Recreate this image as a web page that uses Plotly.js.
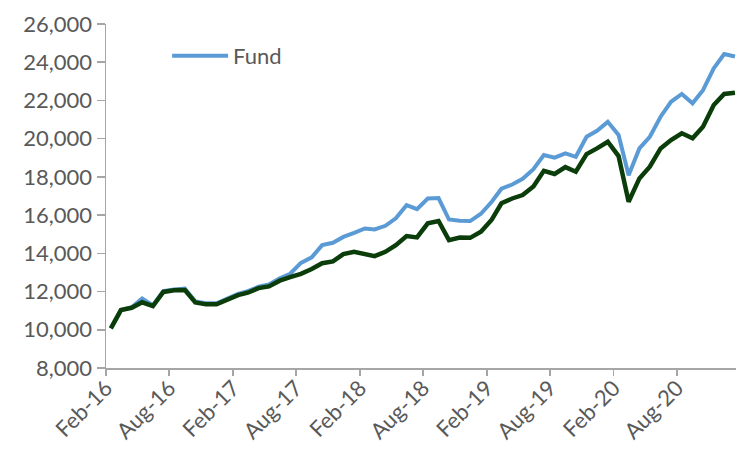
<!DOCTYPE html>
<html>
<head>
<meta charset="utf-8">
<script src="https://cdn.plot.ly/plotly-3.0.1.min.js"></script>
<style>html,body{margin:0;padding:0;background:#fff;}#chart{width:736px;height:450px;}</style>
</head>
<body>
<div id="chart"></div>
<script>
// Monthly observation dates, Feb-16 .. Jan-21
const months = [
 "2016-02-15","2016-03-15","2016-04-15","2016-05-15","2016-06-15","2016-07-15","2016-08-15","2016-09-15","2016-10-15","2016-11-15","2016-12-15",
 "2017-01-15","2017-02-15","2017-03-15","2017-04-15","2017-05-15","2017-06-15","2017-07-15","2017-08-15","2017-09-15","2017-10-15","2017-11-15","2017-12-15",
 "2018-01-15","2018-02-15","2018-03-15","2018-04-15","2018-05-15","2018-06-15","2018-07-15","2018-08-15","2018-09-15","2018-10-15","2018-11-15","2018-12-15",
 "2019-01-15","2019-02-15","2019-03-15","2019-04-15","2019-05-15","2019-06-15","2019-07-15","2019-08-15","2019-09-15","2019-10-15","2019-11-15","2019-12-15",
 "2020-01-15","2020-02-15","2020-03-15","2020-04-15","2020-05-15","2020-06-15","2020-07-15","2020-08-15","2020-09-15","2020-10-15","2020-11-15","2020-12-15",
 "2021-01-15"
];
// Fund growth of 10,000
const fund = [
 10080,11030,11180,11640,11280,12020,12110,12160,11480,11390,11390,
 11640,11880,12020,12250,12370,12690,12930,13500,13790,14430,14550,14860,
 15070,15300,15250,15440,15830,16520,16310,16870,16890,15770,15700,15690,
 16070,16700,17380,17600,17900,18400,19140,19010,19230,19050,20100,20410,
 20880,20190,18090,19490,20100,21150,21930,22340,21850,22540,23680,24430,
 24300
];
// Comparison series (dark green)
const benchmark = [
 10070,11030,11150,11440,11240,11980,12070,12080,11430,11330,11330,
 11600,11810,11940,12180,12270,12570,12750,12930,13180,13480,13580,13960,
 14080,13960,13850,14080,14430,14900,14830,15570,15690,14690,14830,14810,
 15130,15760,16620,16870,17050,17500,18320,18150,18510,18270,19190,19490,
 19840,19090,16700,17920,18530,19490,19930,20280,20020,20620,21760,22340,
 22400
];
// Axis ticks
const xTickVals = ["2016-02-01","2016-08-01","2017-02-01","2017-08-01","2018-02-01","2018-08-01","2019-02-01","2019-08-01","2020-02-01","2020-08-01"];
const xTickText = ["Feb-16","Aug-16","Feb-17","Aug-17","Feb-18","Aug-18","Feb-19","Aug-19","Feb-20","Aug-20"];
const yTickVals = [8000,10000,12000,14000,16000,18000,20000,22000,24000,26000];
const yTickText = ["8,000","10,000","12,000","14,000","16,000","18,000","20,000","22,000","24,000","26,000"];

const font = {family: "Lato, 'Open Sans', sans-serif", size: 22, color: "#595959"};

const traces = [
  {x: months, y: fund, type: "scatter", mode: "lines", name: "Fund",
   line: {color: "#5B9BD5", width: 4, shape: "linear"}},
  {x: months, y: benchmark, type: "scatter", mode: "lines", name: "Benchmark",
   showlegend: false, line: {color: "#0B3D0B", width: 4.5, shape: "linear"}}
];

const layout = {
  width: 736, height: 450,
  margin: {l: 106, r: 0, t: 24, b: 82, pad: 0},
  paper_bgcolor: "#ffffff", plot_bgcolor: "#ffffff",
  font: font,
  showlegend: true,
  legend: {x: 0.097, y: 0.907, xanchor: "left", yanchor: "middle",
           font: font, bgcolor: "rgba(0,0,0,0)", itemwidth: 56, borderwidth: 0},
  xaxis: {type: "date", range: ["2016-02-01", "2021-01-18"],
          tickvals: xTickVals, ticktext: xTickText, tickangle: -45,
          showgrid: false, zeroline: false, showline: true, linecolor: "#A6A6A6", linewidth: 1.5,
          ticks: "outside", ticklen: 6, tickcolor: "#A6A6A6", tickwidth: 1.5,
          ticklabelstandoff: -9,
          tickfont: font, fixedrange: true},
  yaxis: {range: [8000, 26000], tickvals: yTickVals, ticktext: yTickText,
          showgrid: false, zeroline: false, showline: true, linecolor: "#A6A6A6", linewidth: 1.5,
          ticks: "outside", ticklen: 8, tickcolor: "#A6A6A6", tickwidth: 1.5,
          tickfont: font, fixedrange: true}
};

Plotly.newPlot("chart", traces, layout, {staticPlot: true, displayModeBar: false});
</script>
</body>
</html>
